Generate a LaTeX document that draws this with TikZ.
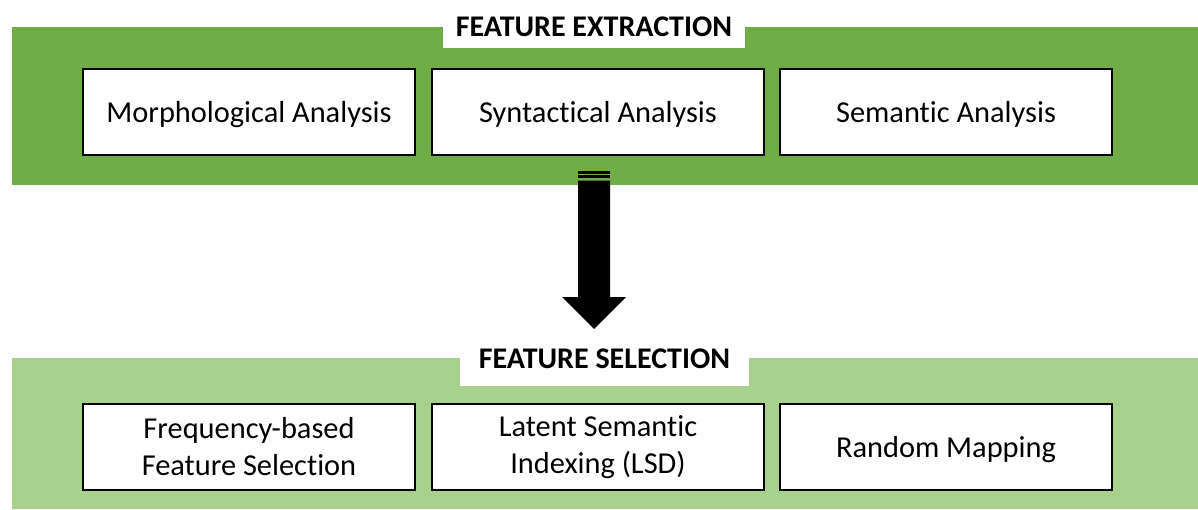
\documentclass[tikz,border=0pt]{standalone}
\usepackage{fontspec}
\setmainfont[Ligatures=NoCommon]{Carlito}
\definecolor{bandDark}{HTML}{70AD47}
\definecolor{bandLight}{HTML}{A9D18E}
\tikzset{
  stagebox/.style={draw=black, line width=1.6pt, fill=white, minimum width=332, minimum height=86,
    inner sep=0pt, align=center, font=\fontsize{30.4}{37}\selectfont},
  oneline/.style={text depth=0pt},
  stagetitle/.style={inner sep=0pt, font=\bfseries\fontsize{30}{34}\selectfont},
}
\begin{document}
\begin{tikzpicture}[x=1pt,y=-1pt]
\useasboundingbox (0,0) rectangle (1198,509);

% feature extraction band with its title tab
\fill[bandDark] (12,27) rectangle (1198,185);
\fill[white] (443,27) rectangle (745,48);
\node[stagetitle] (extTitle) at (594,26.5) {FEATURE EXTRACTION};
\node[stagebox, oneline] (morph) at (249,112) {Morphological Analysis};
\node[stagebox, oneline] (synt)  at (598,112) {Syntactical Analysis};
\node[stagebox, oneline] (sem)   at (946,112) {Semantic Analysis};

% feature selection band with its title tab
\fill[bandLight] (12,358) rectangle (1198,509);
\fill[white] (460,358) rectangle (749,386);
\node[stagetitle] (selTitle) at (604.5,358.5) {FEATURE SELECTION};
\node[stagebox] (freq) at (249,447) {Frequency-based\\Feature Selection};
\node[stagebox] (lsi)  at (598,447) {Latent Semantic\\Indexing (LSD)};
\node[stagebox, oneline] (rmap) at (946,447) {Random Mapping};

% striped block arrow between the two bands
\coordinate (arrTop) at (594,171);
\coordinate (arrTip) at (594,329);
\fill[black] ([xshift=-16]arrTop) rectangle ([xshift=16,yshift=-2.6]arrTop);
\fill[black] ([xshift=-16,yshift=-4.3]arrTop) rectangle ([xshift=16,yshift=-7.3]arrTop);
\fill[black] ([xshift=-16,yshift=-9.5]arrTop)
  -- ([xshift=-16,yshift=32]arrTip) -- ([xshift=-32,yshift=32]arrTip)
  -- (arrTip)
  -- ([xshift=32,yshift=32]arrTip) -- ([xshift=16,yshift=32]arrTip)
  -- ([xshift=16,yshift=-9.5]arrTop) -- cycle;
\end{tikzpicture}
\end{document}
